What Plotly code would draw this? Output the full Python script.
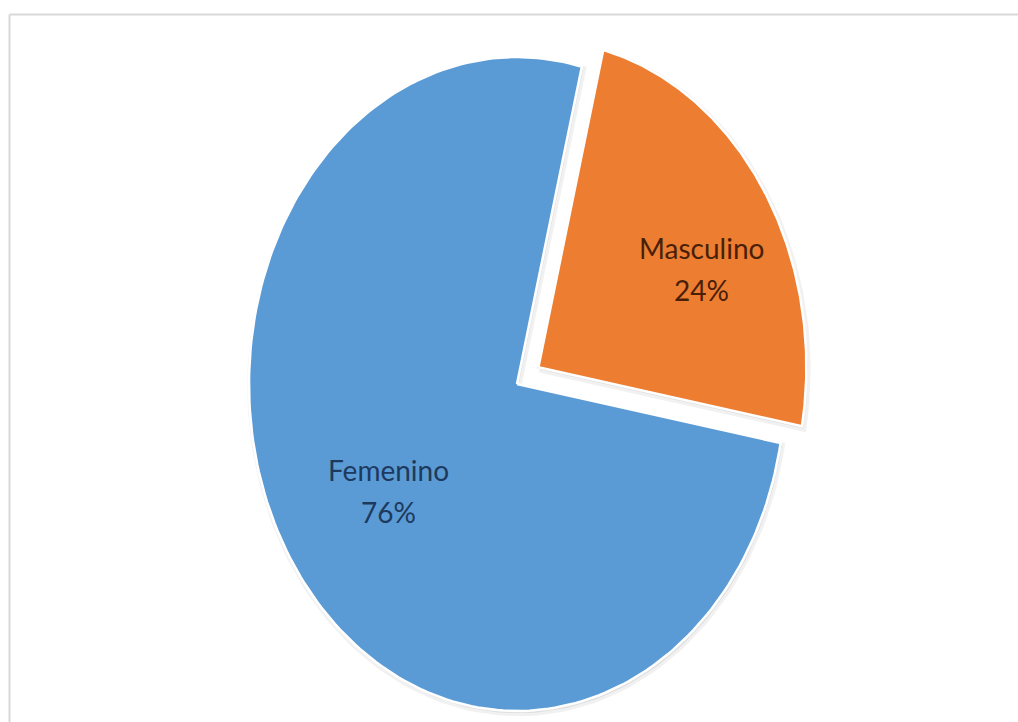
import numpy as np
import plotly.graph_objects as go

# Distribución por sexo
categories = ["Femenino", "Masculino"]
percentages = [76, 24]

colors = {"Femenino": "#5B9BD5", "Masculino": "#ED7D31"}
label_colors = {"Femenino": "#1d3a5e", "Masculino": "#4a1f08"}
explode = {"Femenino": 0.0, "Masculino": 0.095}
# label placement: (radius fraction, angle shift in degrees)
label_place = {"Femenino": (0.58, -1.5), "Masculino": (0.68, 6.5)}

W, H = 1018, 722
CX, CY = 517, 384          # pie centre in pixels
RX, RY = 268, 327          # horizontal / vertical radius in pixels
START = 100.4              # angle (deg, clockwise from 12 o'clock) where first slice begins

# axis ranges so that unit radius maps to RX / RY pixels
x_range = [-CX / RX, (W - CX) / RX]
y_range = [-(H - CY) / RY, CY / RY]

fig = go.Figure()

total = sum(percentages)
angle = START
for cat, val in zip(categories, percentages):
    span = 360.0 * val / total
    a0, a1 = angle, angle + span
    mid = np.radians((a0 + a1) / 2)
    ox = explode[cat] * np.sin(mid)
    oy = explode[cat] * np.cos(mid)
    th = np.radians(np.linspace(a0, a1, 200))
    xs = np.concatenate([[ox], ox + np.sin(th), [ox]])
    ys = np.concatenate([[oy], oy + np.cos(th), [oy]])

    # soft shadow
    fig.add_trace(go.Scatter(
        x=xs + 0.005, y=ys - 0.007, mode="lines", fill="toself",
        fillcolor="rgba(120,120,120,0.15)", line=dict(color="rgba(120,120,120,0.10)", width=6),
        hoverinfo="skip", showlegend=False))
    fig.add_trace(go.Scatter(
        x=xs, y=ys, mode="lines", fill="toself", fillcolor=colors[cat],
        line=dict(color="white", width=2.5), name=cat,
        hoverinfo="name", showlegend=False))

    r, shift = label_place[cat]
    lm = np.radians((a0 + a1) / 2 + shift)
    lx = ox + r * np.sin(lm)
    ly = oy + r * np.cos(lm)
    font = dict(family="Lato, Open Sans, sans-serif", size=28, color=label_colors[cat])
    fig.add_annotation(x=lx, y=ly, text=cat, showarrow=False, font=font,
                       yshift=21, xanchor="center", yanchor="middle")
    fig.add_annotation(x=lx, y=ly, text=f"{val}%", showarrow=False, font=font,
                       yshift=-21, xanchor="center", yanchor="middle")
    angle = a1

# chart frame (top and left edges visible)
frame = dict(color="#d9d9d9", width=2)
fig.add_shape(type="line", xref="paper", yref="paper",
              x0=9.5 / W, x1=1, y0=1 - 14.5 / H, y1=1 - 14.5 / H, line=frame, layer="below")
fig.add_shape(type="line", xref="paper", yref="paper",
              x0=9.5 / W, x1=9.5 / W, y0=0, y1=1 - 14.5 / H, line=frame, layer="below")

fig.update_layout(
    width=W, height=H,
    margin=dict(l=0, r=0, t=0, b=0),
    paper_bgcolor="white", plot_bgcolor="white",
    xaxis=dict(range=x_range, visible=False, fixedrange=True),
    yaxis=dict(range=y_range, visible=False, fixedrange=True),
)

fig.write_html("out.html")
